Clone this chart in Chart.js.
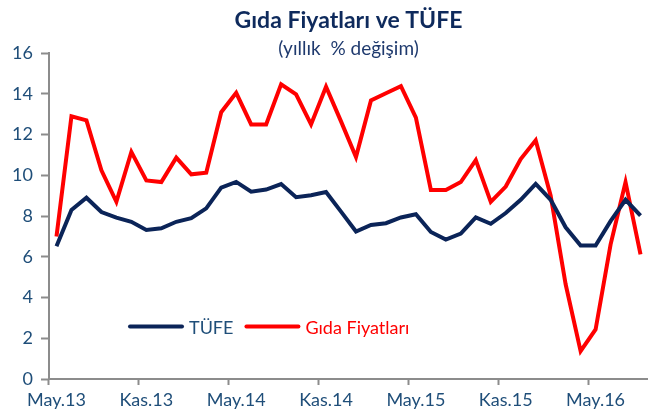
<!DOCTYPE html>
<html>
<head>
<meta charset="utf-8">
<script src="https://cdn.jsdelivr.net/npm/chart.js@4/dist/chart.umd.min.js"></script>
<style>
  html, body { margin: 0; padding: 0; background: #ffffff; }
  #wrap { width: 648px; height: 417px; }
</style>
</head>
<body>
<div id="wrap"><canvas id="chart" width="648" height="417"></canvas></div>
<script>
// monthly, May 2013 - Aug 2016
var months = [
    'May.13', 'Haz.13', 'Tem.13', 'Ağu.13', 'Eyl.13', 'Eki.13', 'Kas.13', 'Ara.13',
    'Oca.14', 'Şub.14', 'Mar.14', 'Nis.14', 'May.14', 'Haz.14', 'Tem.14', 'Ağu.14',
    'Eyl.14', 'Eki.14', 'Kas.14', 'Ara.14', 'Oca.15', 'Şub.15', 'Mar.15', 'Nis.15',
    'May.15', 'Haz.15', 'Tem.15', 'Ağu.15', 'Eyl.15', 'Eki.15', 'Kas.15', 'Ara.15',
    'Oca.16', 'Şub.16', 'Mar.16', 'Nis.16', 'May.16', 'Haz.16', 'Tem.16', 'Ağu.16'
];

var shownLabels = ['May.13', 'Kas.13', 'May.14', 'Kas.14', 'May.15', 'Kas.15', 'May.16'];

var tufe = [
    6.52, 8.30, 8.90, 8.20, 7.92, 7.72, 7.32, 7.40,
    7.72, 7.90, 8.38, 9.40, 9.68, 9.20, 9.30, 9.57,
    8.93, 9.02, 9.18, 8.22, 7.24, 7.56, 7.65, 7.93,
    8.09, 7.22, 6.85, 7.14, 7.93, 7.62, 8.15, 8.80,
    9.58, 8.80, 7.45, 6.55, 6.55, 7.75, 8.80, 8.02
];

var gida = [
    7.00, 12.90, 12.70, 10.25, 8.70, 11.15, 9.75, 9.67,
    10.87, 10.05, 10.13, 13.10, 14.05, 12.50, 12.50, 14.47,
    13.98, 12.50, 14.35, 12.65, 10.90, 13.68, 14.03, 14.38,
    12.83, 9.28, 9.28, 9.67, 10.75, 8.70, 9.45, 10.80,
    11.72, 9.00, 4.65, 1.37, 2.43, 6.60, 9.67, 6.12
];

var yTicks = [0, 2, 4, 6, 8, 10, 12, 14, 16];

var navy = '#0B2458';
var red = '#FF0000';
var axisText = '#1F4E79';
var axisGrey = '#8C8C8C';

// legend drawn inside the plot, like the original
var insideLegend = {
    id: 'insideLegend',
    afterDraw: function (chart) {
        var ctx = chart.ctx;
        var area = chart.chartArea;
        var x = area.left + 81;
        var y = area.bottom - 52.5;
        ctx.save();
        ctx.font = '18px Lato';
        ctx.textBaseline = 'middle';
        ctx.textAlign = 'left';
        chart.data.datasets.forEach(function (ds, i) {
            ctx.strokeStyle = ds.borderColor;
            ctx.lineWidth = 4;
            ctx.lineCap = 'round';
            ctx.beginPath();
            ctx.moveTo(x, y);
            ctx.lineTo(x + 52, y);
            ctx.stroke();
            ctx.fillStyle = i === 0 ? axisText : ds.borderColor;
            ctx.fillText(ds.label, x + 59, y + 1.5);
            x += 59 + ctx.measureText(ds.label).width + 13;
        });
        ctx.restore();
    }
};

new Chart(document.getElementById('chart').getContext('2d'), {
    type: 'line',
    data: {
        labels: months,
        datasets: [{
            label: 'TÜFE',
            data: tufe,
            borderColor: navy,
            backgroundColor: navy,
            borderWidth: 4,
            pointRadius: 0,
            tension: 0
        }, {
            label: 'Gıda Fiyatları',
            data: gida,
            borderColor: red,
            backgroundColor: red,
            borderWidth: 4,
            pointRadius: 0,
            tension: 0
        }]
    },
    plugins: [insideLegend],
    options: {
        responsive: false,
        animation: false,
        layout: { padding: 0 },
        plugins: {
            legend: { display: false },
            tooltip: { enabled: false },
            title: {
                display: true,
                text: 'Gıda Fiyatları ve TÜFE',
                fullSize: false,
                color: '#0E2A5C',
                font: { family: 'Lato', size: 23, weight: 'bold', lineHeight: 1.2 },
                padding: { top: 7, bottom: 0 }
            },
            subtitle: {
                display: true,
                text: '(yıllık  % değişim)',
                fullSize: false,
                color: '#1F3A6E',
                font: { family: 'Lato', size: 19, lineHeight: 0.45 },
                padding: { top: 10, bottom: 0 }
            }
        },
        scales: {
            x: {
                offset: true,
                border: { display: true, color: axisGrey, width: 2 },
                grid: {
                    offset: true,
                    drawOnChartArea: false,
                    drawTicks: true,
                    tickLength: 6,
                    tickWidth: 2,
                    tickColor: function (c) {
                        return shownLabels.indexOf(months[c.index]) >= 0 ? axisGrey : 'rgba(0,0,0,0)';
                    }
                },
                ticks: {
                    autoSkip: false,
                    maxRotation: 0,
                    padding: 4,
                    color: axisText,
                    font: { family: 'Lato', size: 18 },
                    callback: function (v, i) {
                        return shownLabels.indexOf(months[i]) >= 0 ? months[i] : '';
                    }
                },
                afterFit: function (s) { s.height = 38; }
            },
            y: {
                min: 0,
                max: 16,
                border: { display: true, color: axisGrey, width: 2 },
                grid: {
                    drawOnChartArea: false,
                    drawTicks: true,
                    tickLength: 8,
                    tickWidth: 2,
                    tickColor: axisGrey
                },
                afterBuildTicks: function (s) {
                    s.ticks = yTicks.map(function (v) { return { value: v }; });
                },
                ticks: {
                    padding: 8,
                    color: axisText,
                    font: { family: 'Lato', size: 18 }
                },
                afterFit: function (s) { s.width = 49; }
            }
        }
    }
});
</script>
</body>
</html>
